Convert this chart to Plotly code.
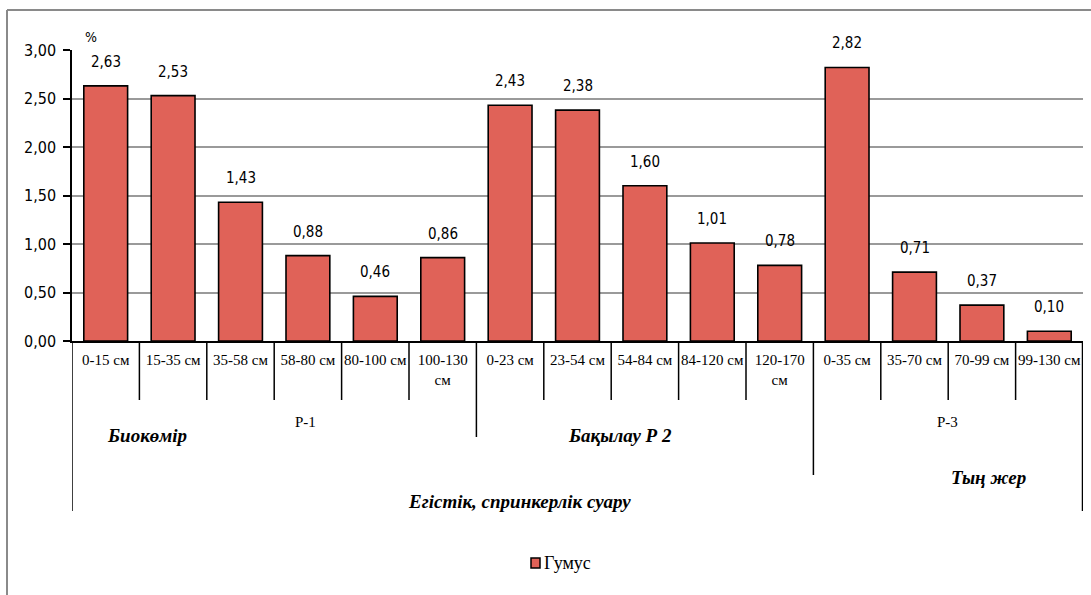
import plotly.graph_objects as go

categories = ["0-15 см", "15-35 см", "35-58 см", "58-80 см", "80-100 см", "100-130 см",
              "0-23 см", "23-54 см", "54-84 см", "84-120 см", "120-170 см",
              "0-35 см", "35-70 см", "70-99 см", "99-130 см"]
tick_labels = ["0-15 см", "15-35 см", "35-58 см", "58-80 см", "80-100 см", "100-130<br>см",
               "0-23 см", "23-54 см", "54-84 см", "84-120 см", "120-170<br>см",
               "0-35 см", "35-70 см", "70-99 см", "99-130 см"]
humus = [2.63, 2.53, 1.43, 0.88, 0.46, 0.86, 2.43, 2.38, 1.60, 1.01, 0.78, 2.82, 0.71, 0.37, 0.10]
series_name = "Гумус"
y_ticks = [0, 0.5, 1.0, 1.5, 2.0, 2.5, 3.0]
group_sizes = [6, 5, 4]

W, H = 1091, 595
L, R, T, B = 72, 8, 50, 254
PW, PH = W - L - R, H - T - B
BAR = "rgb(224,98,88)"
NARROW = "DejaVu Sans Condensed"
SERIF = "Liberation Serif"


def px(x):
    return (x - L) / PW


def py(y):
    return (H - B - y) / PH


fig = go.Figure()
fig.add_trace(go.Bar(
    x=categories, y=humus, name=series_name,
    marker=dict(color=BAR, line=dict(color="black", width=1.6)),
    width=0.65, showlegend=False,
))

for c, v in zip(categories, humus):
    fig.add_annotation(x=c, y=v, xref="x", yref="y", text=f"{v:.2f}".replace(".", ","),
                       showarrow=False, yshift=24, yanchor="middle",
                       font=dict(family=NARROW, size=15, color="black"))

shapes = []
n = len(categories)
bounds = []
acc = 0
for g in group_sizes[:-1]:
    acc += g
    bounds.append(acc)
for i in range(1, n):
    if i in bounds:
        continue
    shapes.append(dict(type="line", xref="x", yref="paper", x0=i - 0.5, x1=i - 0.5,
                       y0=0, y1=py(400), line=dict(color="black", width=1.5)))
shapes.append(dict(type="line", xref="x", yref="paper", x0=bounds[0] - 0.5, x1=bounds[0] - 0.5,
                   y0=0, y1=py(437), line=dict(color="black", width=1.5)))
shapes.append(dict(type="line", xref="x", yref="paper", x0=bounds[1] - 0.5, x1=bounds[1] - 0.5,
                   y0=0, y1=py(475), line=dict(color="black", width=1.5)))
shapes.append(dict(type="line", xref="x", yref="paper", x0=-0.5, x1=-0.5,
                   y0=0, y1=py(511), line=dict(color="black", width=1.5)))
shapes.append(dict(type="line", xref="x", yref="paper", x0=n - 0.5, x1=n - 0.5,
                   y0=0, y1=py(511), line=dict(color="black", width=2.5)))
shapes.append(dict(type="line", xref="paper", yref="paper", x0=px(7), x1=px(1095),
                   y0=py(10), y1=py(10), line=dict(color="#8a8a8a", width=2)))
shapes.append(dict(type="line", xref="paper", yref="paper", x0=px(7), x1=px(7),
                   y0=py(10), y1=py(600), line=dict(color="#8a8a8a", width=2)))
shapes.append(dict(type="rect", xref="paper", yref="paper", x0=px(531), x1=px(540),
                   y0=py(568), y1=py(558), fillcolor=BAR, line=dict(color="black", width=1.5)))
fig.update_layout(shapes=shapes)

labels = [
    ("Р-1", 305, 422, 15),
    ("Р-3", 947, 422, 15),
    ("<b><i>Биокөмір</i></b>", 147, 435, 19),
    ("<b><i>Бақылау Р 2</i></b>", 620, 435, 19),
    ("<b><i>Тың жер</i></b>", 988, 477, 19),
    ("<b><i>Егістік, спринкерлік суару</i></b>", 519, 501, 19),
]
for txt, x, y, s in labels:
    fig.add_annotation(xref="paper", yref="paper", x=px(x), y=py(y), text=txt,
                       showarrow=False, xanchor="center", yanchor="middle",
                       font=dict(family=SERIF, size=s, color="black"))

fig.add_annotation(xref="paper", yref="paper", x=px(542), y=py(563), text=series_name,
                   showarrow=False, xanchor="left", yanchor="middle",
                   font=dict(family=SERIF, size=18, color="black"))
fig.add_annotation(xref="paper", yref="paper", x=px(83), y=py(37), text="%",
                   showarrow=False, xanchor="left", yanchor="middle",
                   font=dict(family=NARROW, size=14, color="black"))

fig.update_layout(
    width=W, height=H,
    margin=dict(l=L, r=R, t=T, b=B),
    paper_bgcolor="white", plot_bgcolor="white",
    separators=",.",
    bargap=0.35,
    xaxis=dict(type="category", categoryorder="array", categoryarray=categories,
               tickvals=categories, ticktext=tick_labels,
               range=[-0.5, n - 0.5], showline=True, linecolor="black", linewidth=2,
               ticks="", showgrid=False, ticklabelstandoff=4,
               tickfont=dict(family=SERIF, size=15, color="black")),
    yaxis=dict(range=[0, 3.0], tickvals=y_ticks, tickformat=".2f",
               showline=True, linecolor="black", linewidth=1.5,
               ticks="outside", ticklen=7, tickcolor="black", tickwidth=2,
               ticklabelstandoff=4,
               showgrid=True, gridcolor="#9a9a9a", gridwidth=1.5, zeroline=False,
               tickfont=dict(family=NARROW, size=16, color="black")),
)

fig.write_html("out.html")
